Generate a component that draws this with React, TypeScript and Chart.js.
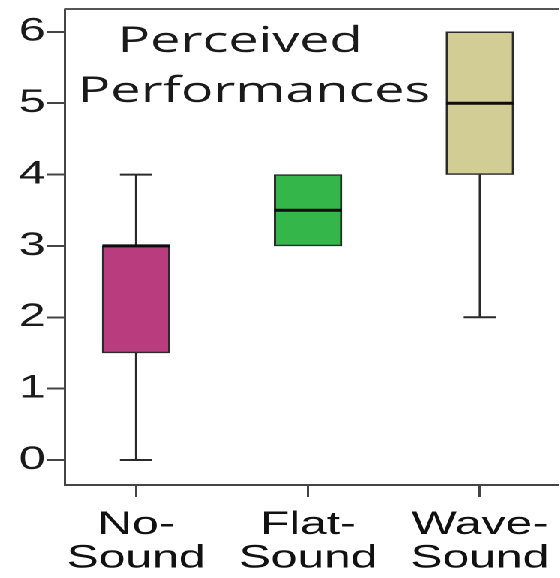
import React, { useEffect, useRef } from "react";
import { Chart, registerables } from "chart.js";

Chart.register(...registerables);

const categories = ["No-Sound", "Flat-Sound", "Wave-Sound"];
const categoryLines = [["No-", "Sound"], ["Flat-", "Sound"], ["Wave-", "Sound"]];
const minValues = [0, 3, 2];
const q1Values = [1.5, 3, 4];
const medianValues = [3, 3.5, 5];
const q3Values = [3, 4, 6];
const maxValues = [4, 4, 6];
const boxColors = ["#B93C7E", "#34B64B", "#D2CC95"];
const yTicks = [0, 1, 2, 3, 4, 5, 6];
const titleLines = ["Perceived", "Performances"];

const STRETCH = 1.5;
const LINE = "#2a2a2a";

const boxPlugin = {
  id: "boxWhiskers",
  afterDatasetsDraw(chart: any) {
    const ctx = chart.ctx;
    const xs = chart.scales.x;
    const ys = chart.scales.y;
    const meta = chart.getDatasetMeta(0);
    ctx.save();
    categories.forEach((_, i) => {
      const el = meta.data[i];
      const x = xs.getPixelForValue(i + 1);
      const w = el.width;
      const cap = w * 0.24;
      ctx.strokeStyle = LINE;
      ctx.lineWidth = 1.5;
      ctx.lineCap = "butt";
      if (maxValues[i] > q3Values[i]) {
        const yTop = ys.getPixelForValue(maxValues[i]);
        const yBox = ys.getPixelForValue(q3Values[i]);
        ctx.beginPath();
        ctx.moveTo(x, yBox);
        ctx.lineTo(x, yTop);
        ctx.stroke();
        ctx.beginPath();
        ctx.lineWidth = 2;
        ctx.moveTo(x - cap, yTop);
        ctx.lineTo(x + cap, yTop);
        ctx.stroke();
        ctx.lineWidth = 1.5;
      }
      if (minValues[i] < q1Values[i]) {
        const yBot = ys.getPixelForValue(minValues[i]);
        const yBox = ys.getPixelForValue(q1Values[i]);
        ctx.beginPath();
        ctx.moveTo(x, yBox);
        ctx.lineTo(x, yBot);
        ctx.stroke();
        ctx.beginPath();
        ctx.lineWidth = 2;
        ctx.moveTo(x - cap, yBot);
        ctx.lineTo(x + cap, yBot);
        ctx.stroke();
      }
      const yMed = ys.getPixelForValue(medianValues[i]);
      ctx.strokeStyle = "#0d0d0d";
      ctx.lineWidth = 3;
      ctx.beginPath();
      ctx.moveTo(x - w / 2, yMed);
      ctx.lineTo(x + w / 2, yMed);
      ctx.stroke();
    });
    ctx.restore();
  },
  afterDraw(chart: any) {
    const ctx = chart.ctx;
    const area = chart.chartArea;
    ctx.save();
    ctx.strokeStyle = "#555";
    ctx.lineWidth = 2;
    ctx.beginPath();
    ctx.moveTo(area.left, area.top);
    ctx.lineTo(area.right, area.top);
    ctx.stroke();
    ctx.fillStyle = "#1a1a1a";
    ctx.font = '36px "Open Sans"';
    ctx.textAlign = "left";
    ctx.textBaseline = "alphabetic";
    ctx.fillText(titleLines[0], area.left + 35, area.top + 43);
    ctx.fillText(titleLines[1], area.left + 8.5, area.top + 93);
    ctx.restore();
  },
};

export default function App() {
  const canvasRef = useRef<HTMLCanvasElement | null>(null);

  useEffect(() => {
    if (!canvasRef.current) return;
    const chart = new Chart(canvasRef.current, {
      type: "bar",
      data: {
        datasets: [
          {
            data: categories.map((_, i) => ({ x: i + 1, y: [q1Values[i], q3Values[i]] })) as any,
            backgroundColor: boxColors,
            borderColor: LINE,
            borderWidth: 1.5,
            borderSkipped: false,
            barThickness: 45,
          },
        ],
      },
      options: {
        animation: false,
        responsive: true,
        maintainAspectRatio: false,
        devicePixelRatio: 2,
        layout: { padding: { top: 9, left: 0, right: 0, bottom: 0 } },
        plugins: {
          legend: { display: false },
          tooltip: { enabled: false },
          title: { display: false },
        },
        scales: {
          x: {
            type: "linear",
            offset: false,
            min: 0.587,
            max: 3.465,
            afterBuildTicks: (s: any) => {
              s.ticks = categories.map((_, i) => ({ value: i + 1 }));
            },
            afterFit: (s: any) => {
              s.height = 93;
              s.paddingLeft = 0;
              s.paddingRight = 0;
            },
            ticks: {
              autoSkip: false,
              maxRotation: 0,
              padding: 11,
              color: "#111",
              font: { family: '"Liberation Sans", Arial, sans-serif', size: 32, lineHeight: 1.06 },
              callback: (_v: any, index: number) => categoryLines[index],
            },
            grid: {
              offset: false,
              drawOnChartArea: false,
              drawTicks: true,
              tickLength: 12,
              color: "#444",
              lineWidth: 1.5,
            },
            border: { display: true, color: "#444", width: 2 },
          },
          y: {
            type: "linear",
            min: -0.35,
            max: 6.32,
            afterBuildTicks: (s: any) => {
              s.ticks = yTicks.map((v) => ({ value: v }));
            },
            afterFit: (s: any) => {
              s.width = 65 / STRETCH;
              s.paddingTop = 0;
              s.paddingBottom = 0;
            },
            ticks: {
              padding: 1,
              color: "#1a1a1a",
              font: { family: '"Liberation Sans", Arial, sans-serif', size: 32 },
              callback: (v: any) => String(v),
            },
            grid: {
              drawOnChartArea: false,
              drawTicks: true,
              tickLength: 12,
              color: "#444",
              lineWidth: 2,
            },
            border: { display: true, color: "#444", width: 1.5 },
          },
        },
      },
      plugins: [boxPlugin],
    });
    return () => chart.destroy();
  }, []);

  return (
    <div
      style={{
        position: "fixed",
        left: 0,
        top: 0,
        width: `${560 / STRETCH}px`,
        height: "578px",
        transform: `scaleX(${STRETCH})`,
        transformOrigin: "0 0",
        background: "#fff",
      }}
    >
      <canvas ref={canvasRef} style={{ display: "block" }} />
    </div>
  );
}
